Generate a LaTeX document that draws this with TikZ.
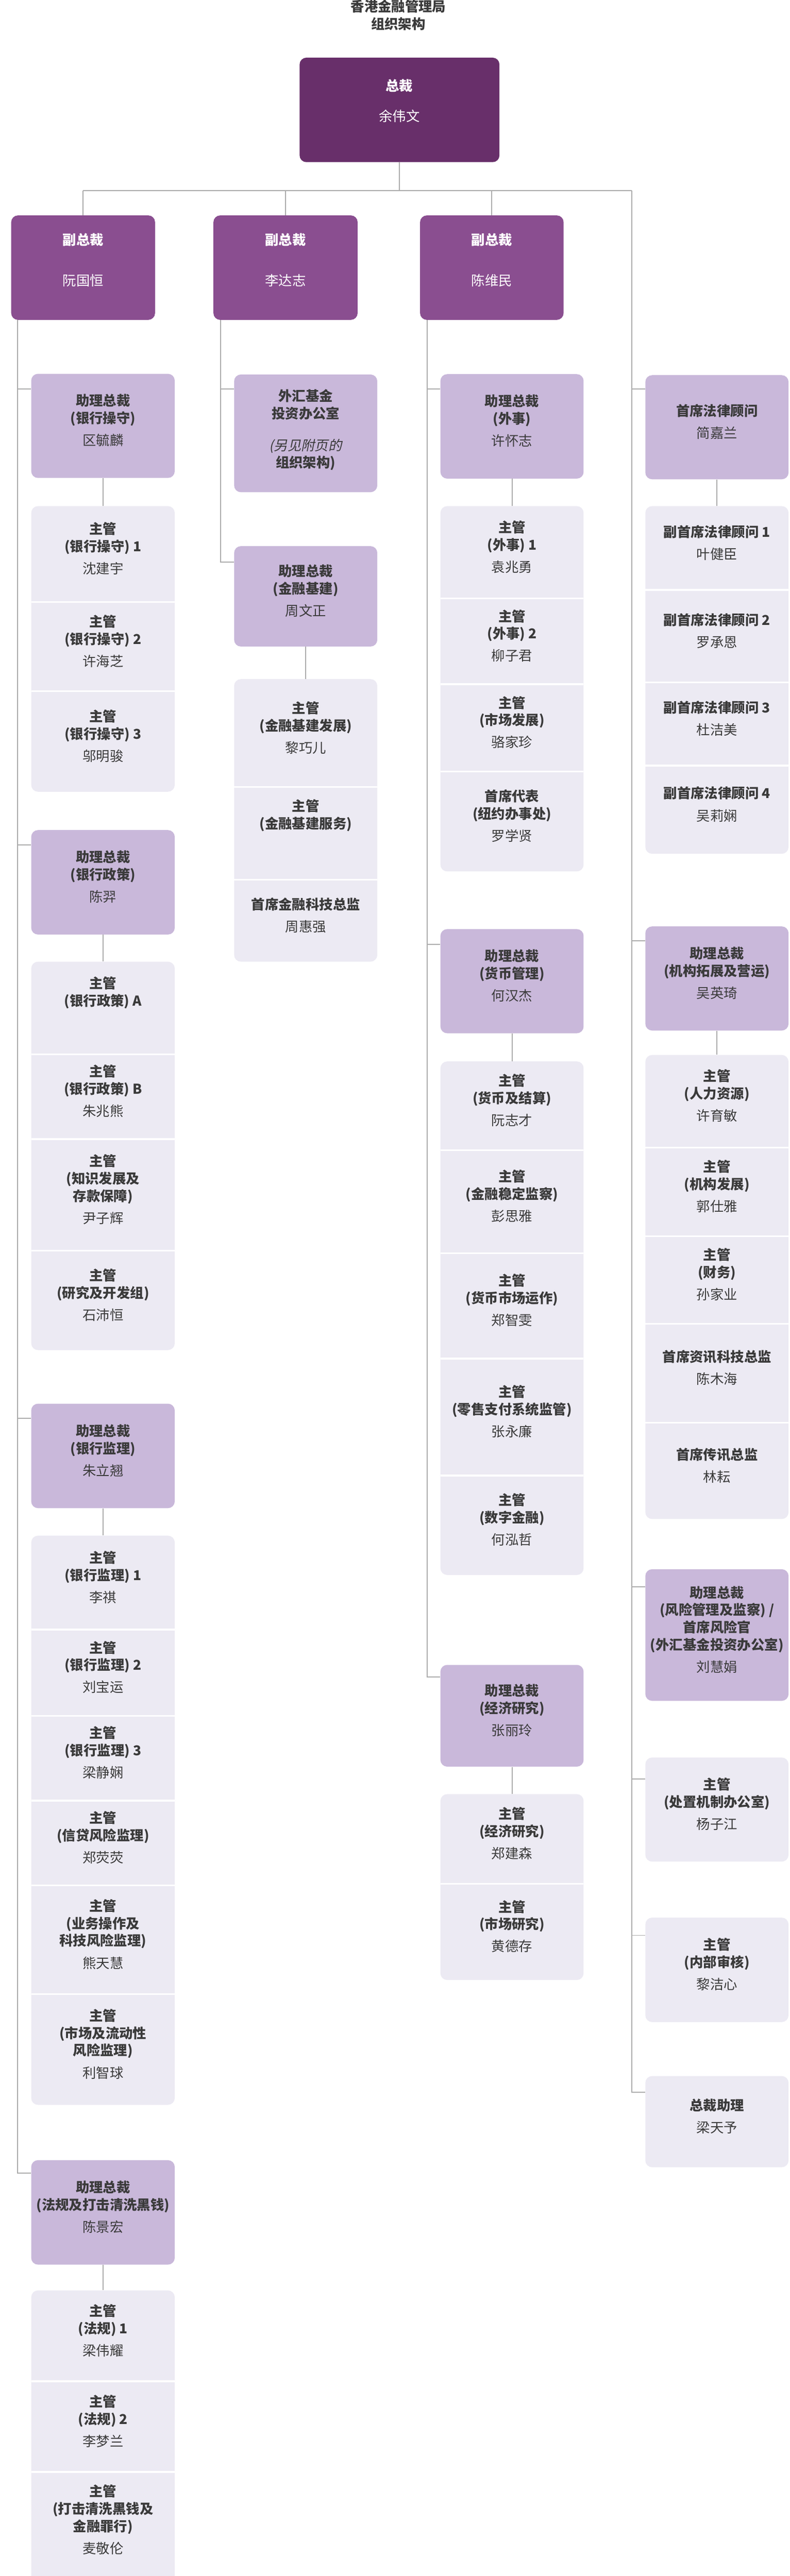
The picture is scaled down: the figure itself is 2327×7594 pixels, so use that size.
\documentclass[tikz,border=0pt]{standalone}
\usepackage{fontspec}
\setmainfont{Noto Sans CJK SC}[AutoFakeSlant=0.2]
\usetikzlibrary{fit,calc}
\definecolor{mainc}{HTML}{682F6A}
\definecolor{depc}{HTML}{8A4E90}
\definecolor{agc}{HTML}{C9B8DA}
\definecolor{subc}{HTML}{ECEAF3}
\definecolor{lnc}{HTML}{ABABAB}
\definecolor{txtc}{HTML}{3A3A3A}
\tikzset{
 txt/.style={align=center,text=txtc,inner sep=0pt,font=\fontsize{11.4pt}{14.6pt}\selectfont\bfseries},
 wtxt/.style={txt,text=white},
 ln/.style={draw=lnc,line width=0.03cm},
 agbox/.style={fill=agc,rounded corners=0.2cm,inner sep=0pt},
 depbox/.style={fill=depc,rounded corners=0.2cm,inner sep=0pt},
 mainbox/.style={fill=mainc,rounded corners=0.2cm,inner sep=0pt},
 sbox/.style={inner sep=0pt}
}
\newcommand\agx[6]{\node[agbox,fit={(#2,#3)(#4,#5)}] (#1) {};
 \node[txt] at ([yshift=0.16cm]#1.center) {#6};}
\newcommand\sbx[6]{\node[sbox,fit={(#2,#3)(#4,#5)}] (#1) {};
 \node[txt] at ([yshift=0.16cm]#1.center) {#6};}
\newcommand\bgx[4]{\fill[subc,rounded corners=0.2cm] (#1,#2) rectangle (#3,#4);}
\newcommand\sepx[3]{\draw[white,line width=0.05cm] (#1,#3) -- (#2,#3);}
\newcommand\nmx[1]{\\[4pt]{\mdseries #1}}
\begin{document}
\begin{tikzpicture}[x=0.01cm,y=-0.01cm]
\useasboundingbox (0,0) rectangle (2327,7594);
\clip (0,0) rectangle (2327,7594);
\node[txt] (title) at (1174,45) {香港金融管理局\\组织架构};
% main
\node[mainbox,fit={(883,170)(1472,478)}] (main) {};
\node[wtxt] at (1177,252) {总裁};
\node[wtxt,font=\fontsize{11.4pt}{14.6pt}\selectfont] at (1177,342) {余伟文};
% deputies
\node[depbox,fit={(33,635)(457,943)}] (dp1) {};
\node[depbox,fit={(629,635)(1054,943)}] (dp2) {};
\node[depbox,fit={(1238,635)(1661,943)}] (dp3) {};
\foreach \n/\p in {dp1/阮国恒,dp2/李达志,dp3/陈维民}{
 \node[wtxt] at ($(\n.north)+(0,73)$) {副总裁};
 \node[wtxt,font=\fontsize{11.4pt}{14.6pt}\selectfont] at ($(\n.north)+(0,193)$) {\p};
}
% column 1
\agx{ag1a}{92}{1102}{515}{1409}{助理总裁\\(银行操守)\nmx{区毓麟}}
\bgx{92}{1492}{515}{2334}
\sepx{92}{515}{1775}\sepx{92}{515}{2037}
\sbx{s1a1}{92}{1492}{515}{1775}{主管\\(银行操守) 1\nmx{沈建宇}}
\sbx{s1a2}{92}{1775}{515}{2037}{主管\\(银行操守) 2\nmx{许海芝}}
\sbx{s1a3}{92}{2037}{515}{2334}{主管\\(银行操守) 3\nmx{邬明骏}}
\agx{ag1b}{92}{2447}{515}{2755}{助理总裁\\(银行政策)\nmx{陈羿}}
\bgx{92}{2835}{515}{3980}
\sepx{92}{515}{3108}\sepx{92}{515}{3358}\sepx{92}{515}{3687}
\sbx{s1b1}{92}{2835}{515}{3108}{}
\node[txt] at ([yshift=0.45cm]s1b1.center) {主管\\(银行政策) A};
\sbx{s1b2}{92}{3108}{515}{3358}{主管\\(银行政策) B\nmx{朱兆熊}}
\sbx{s1b3}{92}{3358}{515}{3687}{主管\\(知识发展及\\存款保障)\nmx{尹子辉}}
\sbx{s1b4}{92}{3687}{515}{3980}{主管\\(研究及开发组)\nmx{石沛恒}}
\agx{ag1c}{92}{4138}{515}{4446}{助理总裁\\(银行监理)\nmx{朱立翘}}
\bgx{92}{4527}{515}{6205}
\sepx{92}{515}{4804}\sepx{92}{515}{5058}\sepx{92}{515}{5308}\sepx{92}{515}{5558}\sepx{92}{515}{5878}
\sbx{s1c1}{92}{4527}{515}{4804}{主管\\(银行监理) 1\nmx{李祺}}
\sbx{s1c2}{92}{4804}{515}{5058}{主管\\(银行监理) 2\nmx{刘宝运}}
\sbx{s1c3}{92}{5058}{515}{5308}{主管\\(银行监理) 3\nmx{梁静娴}}
\sbx{s1c4}{92}{5308}{515}{5558}{主管\\(信贷风险监理)\nmx{郑荧荧}}
\sbx{s1c5}{92}{5558}{515}{5878}{主管\\(业务操作及\\科技风险监理)\nmx{熊天慧}}
\sbx{s1c6}{92}{5878}{515}{6205}{主管\\(市场及流动性\\风险监理)\nmx{利智球}}
\agx{ag1d}{92}{6368}{515}{6676}{助理总裁\\(法规及打击清洗黑钱)\nmx{陈景宏}}
\bgx{92}{6752}{515}{7640}
\sepx{92}{515}{7020}\sepx{92}{515}{7287}
\sbx{s1d1}{92}{6752}{515}{7020}{主管\\(法规) 1\nmx{梁伟耀}}
\sbx{s1d2}{92}{7020}{515}{7287}{主管\\(法规) 2\nmx{李梦兰}}
\sbx{s1d3}{92}{7287}{515}{7600}{主管\\(打击清洗黑钱及\\金融罪行)\nmx{麦敬伦}}
% column 2
\node[agbox,fit={(690,1104)(1112,1451)}] (fx) {};
\node[txt] at ([yshift=0.1cm]fx.center) {外汇基金\\投资办公室\\[12pt]\mdseries\itshape (另见附页的\\组织架构)};
\agx{ag2}{690}{1610}{1112}{1906}{助理总裁\\(金融基建)\nmx{周文正}}
\bgx{690}{2002}{1112}{2835}
\sepx{690}{1112}{2320}\sepx{690}{1112}{2593}
\sbx{s2a1}{690}{2002}{1112}{2320}{主管\\(金融基建发展)\nmx{黎巧儿}}
\sbx{s2a2}{690}{2320}{1112}{2593}{}
\node[txt] at ([yshift=0.53cm]s2a2.center) {主管\\(金融基建服务)};
\sbx{s2a3}{690}{2593}{1112}{2835}{首席金融科技总监\nmx{周惠强}}
% column 3
\agx{ag3a}{1298}{1103}{1720}{1411}{助理总裁\\(外事)\nmx{许怀志}}
\bgx{1298}{1492}{1720}{2569}
\sepx{1298}{1720}{1764}\sepx{1298}{1720}{2017}\sepx{1298}{1720}{2274}
\sbx{s3a1}{1298}{1492}{1720}{1764}{主管\\(外事) 1\nmx{袁兆勇}}
\sbx{s3a2}{1298}{1764}{1720}{2017}{主管\\(外事) 2\nmx{柳子君}}
\sbx{s3a3}{1298}{2017}{1720}{2274}{主管\\(市场发展)\nmx{骆家珍}}
\sbx{s3a4}{1298}{2274}{1720}{2569}{首席代表\\(纽约办事处)\nmx{罗学贤}}
\agx{ag3b}{1298}{2739}{1720}{3046}{助理总裁\\(货币管理)\nmx{何汉杰}}
\bgx{1298}{3129}{1720}{4643}
\sepx{1298}{1720}{3391}\sepx{1298}{1720}{3694}\sepx{1298}{1720}{4005}\sepx{1298}{1720}{4350}
\sbx{s3b1}{1298}{3129}{1720}{3391}{主管\\(货币及结算)\nmx{阮志才}}
\sbx{s3b2}{1298}{3391}{1720}{3694}{主管\\(金融稳定监察)\nmx{彭思雅}}
\sbx{s3b3}{1298}{3694}{1720}{4005}{主管\\(货币市场运作)\nmx{郑智雯}}
\sbx{s3b4}{1298}{4005}{1720}{4350}{主管\\(零售支付系统监管)\nmx{张永廉}}
\sbx{s3b5}{1298}{4350}{1720}{4643}{主管\\(数字金融)\nmx{何泓哲}}
\agx{ag3c}{1298}{4908}{1720}{5208}{助理总裁\\(经济研究)\nmx{张丽玲}}
\bgx{1298}{5289}{1720}{5837}
\sepx{1298}{1720}{5553}
\sbx{s3c1}{1298}{5289}{1720}{5553}{主管\\(经济研究)\nmx{郑建森}}
\sbx{s3c2}{1298}{5553}{1720}{5837}{主管\\(市场研究)\nmx{黄德存}}
% column 4
\agx{lg}{1902}{1106}{2324}{1413}{首席法律顾问\nmx{简嘉兰}}
\bgx{1902}{1492}{2324}{2517}
\sepx{1902}{2324}{1739}\sepx{1902}{2324}{2012}\sepx{1902}{2324}{2257}
\sbx{s4a1}{1902}{1492}{2324}{1739}{副首席法律顾问 1\nmx{叶健臣}}
\sbx{s4a2}{1902}{1739}{2324}{2012}{副首席法律顾问 2\nmx{罗承恩}}
\sbx{s4a3}{1902}{2012}{2324}{2257}{副首席法律顾问 3\nmx{杜洁美}}
\sbx{s4a4}{1902}{2257}{2324}{2517}{副首席法律顾问 4\nmx{吴莉娴}}
\agx{ag4a}{1902}{2731}{2324}{3038}{助理总裁\\(机构拓展及营运)\nmx{吴英琦}}
\bgx{1902}{3110}{2324}{4478}
\sepx{1902}{2324}{3383}\sepx{1902}{2324}{3644}\sepx{1902}{2324}{3902}\sepx{1902}{2324}{4194}
\sbx{s4b1}{1902}{3110}{2324}{3383}{主管\\(人力资源)\nmx{许育敏}}
\sbx{s4b2}{1902}{3383}{2324}{3644}{主管\\(机构发展)\nmx{郭仕雅}}
\sbx{s4b3}{1902}{3644}{2324}{3902}{主管\\(财务)\nmx{孙家业}}
\sbx{s4b4}{1902}{3902}{2324}{4194}{首席资讯科技总监\nmx{陈木海}}
\sbx{s4b5}{1902}{4194}{2324}{4478}{首席传讯总监\nmx{林耘}}
\agx{ag4b}{1902}{4626}{2324}{5014}{助理总裁\\(风险管理及监察) /\\首席风险官\\(外汇基金投资办公室)\nmx{刘慧娟}}
\bgx{1902}{5181}{2324}{5488}
\sbx{cz}{1902}{5181}{2324}{5488}{主管\\(处置机制办公室)\nmx{杨子江}}
\bgx{1902}{5653}{2324}{5961}
\sbx{nb}{1902}{5653}{2324}{5961}{主管\\(内部审核)\nmx{黎洁心}}
\bgx{1902}{6120}{2324}{6389}
\sbx{tz}{1902}{6120}{2324}{6389}{总裁助理\nmx{梁天予}}
% connectors
\coordinate (busL) at (dp1.north |- 0,562);
\coordinate (busR) at (1862,562);
\draw[ln] (main.south) -- (main.south |- busL);
\draw[ln] (busL) -- (busR);
\foreach \n in {dp1,dp2,dp3}{\draw[ln] (\n.north) -- (\n.north |- busL);}
\draw[ln] (busR) |- ($(tz.north west)+(0,48)$);
\foreach \n/\o in {lg/42,ag4a/43,ag4b/52,cz/64,nb/53}{\draw[ln] ($(\n.north west)+(0,\o)$) -- ++(-40,0);}
\draw[ln] ([xshift=0.19cm]dp1.south west) |- ($(ag1d.north west)+(0,39)$);
\foreach \n/\o in {ag1a/46,ag1b/44,ag1c/44}{\draw[ln] ($(\n.north west)+(0,\o)$) -- ++(-40,0);}
\draw[ln] ([xshift=0.21cm]dp2.south west) |- ($(ag2.north west)+(0,48)$);
\draw[ln] ($(fx.north west)+(0,44)$) -- ++(-40,0);
\draw[ln] ([xshift=0.22cm]dp3.south west) |- ($(ag3c.north west)+(0,36)$);
\foreach \n/\o in {ag3a/45,ag3b/45}{\draw[ln] ($(\n.north west)+(0,\o)$) -- ++(-38,0);}
\foreach \a/\b in {ag1a/s1a1,ag1b/s1b1,ag1c/s1c1,ag1d/s1d1,ag2/s2a1,ag3a/s3a1,ag3b/s3b1,ag3c/s3c1,lg/s4a1,ag4a/s4b1}{\draw[ln] (\a.south) -- (\b.north);}
\end{tikzpicture}
\end{document}
